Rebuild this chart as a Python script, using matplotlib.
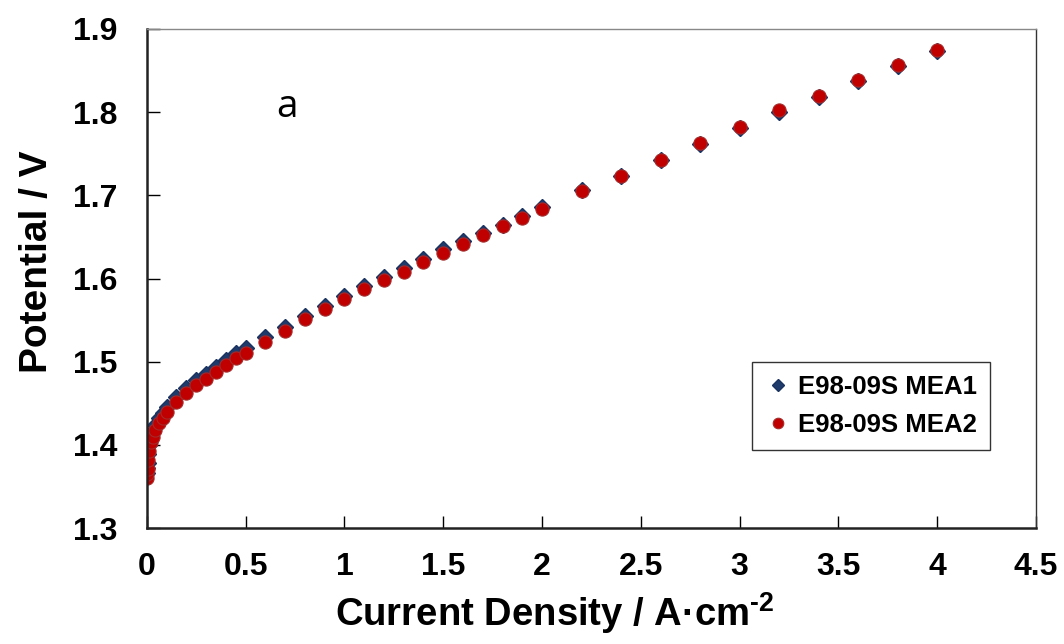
import matplotlib
matplotlib.use("Agg")
import matplotlib.pyplot as plt

plt.rcParams["font.family"] = ["Liberation Sans", "DejaVu Sans"]
plt.rcParams["mathtext.fontset"] = "custom"
plt.rcParams["mathtext.rm"] = "Liberation Sans:bold"
plt.rcParams["mathtext.it"] = "Liberation Sans:bold"
plt.rcParams["mathtext.bf"] = "Liberation Sans:bold"

# polarisation curves, current density in A/cm2, cell potential in V
current = [0, 0.002, 0.004, 0.006, 0.01, 0.02, 0.03, 0.04, 0.06, 0.08, 0.1,
           0.15, 0.2, 0.25, 0.3, 0.35, 0.4, 0.45, 0.5, 0.6, 0.7, 0.8, 0.9,
           1.0, 1.1, 1.2, 1.3, 1.4, 1.5, 1.6, 1.7, 1.8, 1.9, 2.0,
           2.2, 2.4, 2.6, 2.8, 3.0, 3.2, 3.4, 3.6, 3.8, 4.0]
mea1 = [1.366, 1.372, 1.378, 1.389, 1.400, 1.411, 1.417, 1.424, 1.432, 1.438,
        1.446, 1.458, 1.468, 1.478, 1.485, 1.494, 1.502, 1.510, 1.517, 1.530,
        1.542, 1.555, 1.567, 1.579, 1.591, 1.602, 1.613, 1.624, 1.635, 1.645,
        1.655, 1.664, 1.675, 1.686, 1.706, 1.723, 1.742, 1.762, 1.781, 1.800,
        1.818, 1.837, 1.855, 1.873]
mea2 = [1.360, 1.365, 1.371, 1.382, 1.393, 1.404, 1.410, 1.418, 1.4265,
        1.4325, 1.440, 1.452, 1.4626, 1.472, 1.4795, 1.488, 1.496, 1.504,
        1.511, 1.524, 1.537, 1.551, 1.563, 1.575, 1.587, 1.598, 1.608, 1.620,
        1.631, 1.642, 1.652, 1.663, 1.673, 1.684, 1.705, 1.723, 1.743, 1.763,
        1.782, 1.802, 1.820, 1.8386, 1.857, 1.875]
labels = ["E98-09S MEA1", "E98-09S MEA2"]
xticks = [0, 0.5, 1, 1.5, 2, 2.5, 3, 3.5, 4, 4.5]
yticks = [1.3, 1.4, 1.5, 1.6, 1.7, 1.8, 1.9]

fig = plt.figure(figsize=(10.64, 6.44), dpi=100)
ax = fig.add_axes([0.138, 0.180, 0.8357, 0.775])

ax.plot(current, mea1, linestyle="none", marker="D", markersize=8,
        color="#1F3B6B", markeredgecolor="#1A3260", label=labels[0])
ax.plot(current, mea2, linestyle="none", marker="o", markersize=9.5,
        color="#C00000", markeredgecolor="#A52A2A", markeredgewidth=0.8,
        label=labels[1])

ax.set_xlim(0, 4.5)
ax.set_ylim(1.3, 1.9)
ax.set_xticks(xticks)
ax.set_xticklabels([f"{t:g}" for t in xticks])
ax.set_yticks(yticks)
ax.set_yticklabels([f"{t:.1f}" for t in yticks])
ax.tick_params(direction="in", length=9, width=1, labelsize=23,
               colors="black")
ax.tick_params(axis="x", pad=17)
ax.tick_params(axis="y", pad=21)
for lab in ax.get_xticklabels() + ax.get_yticklabels():
    lab.set_fontweight("bold")

for side in ("left", "bottom"):
    ax.spines[side].set_linewidth(1.8)
    ax.spines[side].set_color("#222222")
ax.spines["top"].set_linewidth(1.0)
ax.spines["top"].set_color("#888888")
ax.spines["right"].set_linewidth(1.0)
ax.spines["right"].set_color("#333333")

ax.set_xlabel("Current Density / A·cm$^{\u20102}$", fontsize=27.5,
              fontweight="bold")
ax.xaxis.set_label_coords(0.459, -0.125)
ax.set_ylabel("Potential / V", fontsize=28, fontweight="bold")
ax.yaxis.set_label_coords(-0.103, 0.533)

ax.text(0.71, 1.806, "a", fontsize=28, family="Open Sans",
        ha="center", va="center")

leg = ax.legend(loc="lower left", bbox_to_anchor=(0.6805, 0.156),
                borderaxespad=0, frameon=True, fancybox=False,
                prop={"weight": "bold", "size": 18.5}, markerscale=0.8,
                handlelength=1.0, handletextpad=0.3, borderpad=0.5,
                labelspacing=0.55)
leg.get_frame().set_edgecolor("black")
leg.get_frame().set_linewidth(1.0)

fig.savefig("out.png", dpi=100)
